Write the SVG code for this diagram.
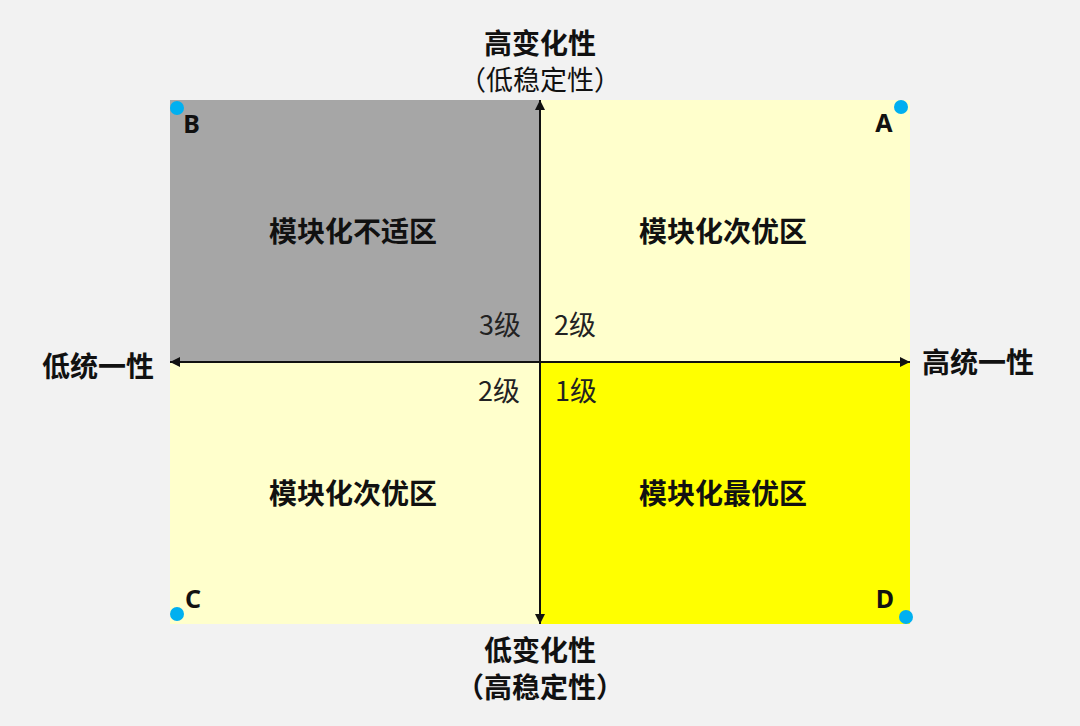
<svg xmlns="http://www.w3.org/2000/svg" width="1080" height="726" viewBox="0 0 1080 726">
<style>
text{font-family:"Noto Sans CJK SC","Noto Sans",sans-serif;fill:#111;text-anchor:middle;dominant-baseline:central}
.b{font-weight:bold;font-size:28px}
.r{font-weight:normal;font-size:27px}
.lv{font-weight:normal;font-size:27px;fill:#222}
.let{font-family:"Noto Sans",sans-serif;font-size:25px;font-weight:bold;dominant-baseline:auto}
.ax{stroke:#111;stroke-width:2;fill:none}
.dot{fill:#00b0f0}
</style>
<defs>
<marker id="ah" viewBox="0 0 10 10" refX="10" refY="5" markerWidth="10" markerHeight="10" markerUnits="userSpaceOnUse" orient="auto">
<path d="M0,0 L10,5 L0,10 Z" fill="#111"/>
</marker>
</defs>
<rect x="0" y="0" width="1080" height="726" fill="#f2f2f2"/>
<g id="quadB"><rect x="170" y="100" width="370" height="262" fill="#a6a6a6"/><text class="b" x="353" y="230">模块化不适区</text><text class="lv" x="500" y="323">3级</text></g>
<g id="quadA"><rect x="540" y="100" width="370" height="262" fill="#ffffcc"/><text class="b" x="723" y="230">模块化次优区</text><text class="lv" x="575" y="323">2级</text></g>
<g id="quadC"><rect x="170" y="362" width="370" height="262" fill="#ffffcc"/><text class="b" x="353" y="492">模块化次优区</text><text class="lv" x="499" y="389">2级</text></g>
<g id="quadD"><rect x="540" y="362" width="370" height="262" fill="#ffff00"/><text class="b" x="723" y="492">模块化最优区</text><text class="lv" x="576" y="389">1级</text></g>
<g id="connectors">
<line class="ax" x1="540" y1="362" x2="540" y2="100" marker-end="url(#ah)"/>
<line class="ax" x1="540" y1="362" x2="540" y2="624" marker-end="url(#ah)"/>
<line class="ax" x1="540" y1="362" x2="170" y2="362" marker-end="url(#ah)"/>
<line class="ax" x1="540" y1="362" x2="910" y2="362" marker-end="url(#ah)"/>
</g>
<g id="corners">
<circle class="dot" cx="177" cy="108" r="7"/><text class="let" x="191.5" y="133">B</text>
<circle class="dot" cx="901" cy="107" r="7"/><text class="let" x="884" y="132">A</text>
<circle class="dot" cx="177" cy="614" r="7"/><text class="let" x="193" y="608">C</text>
<circle class="dot" cx="906" cy="617" r="7"/><text class="let" x="885" y="608">D</text>
</g>
<g id="axisTop"><text class="b" x="540" y="42">高变化性</text><text class="r" x="540" y="78">（低稳定性）</text></g>
<g id="axisBottom"><text class="b" x="540" y="649">低变化性</text><text class="b" x="540" y="686">（高稳定性）</text></g>
<g id="axisLeft"><text class="b" x="98" y="365">低统一性</text></g>
<g id="axisRight"><text class="b" x="978" y="361">高统一性</text></g>
</svg>
